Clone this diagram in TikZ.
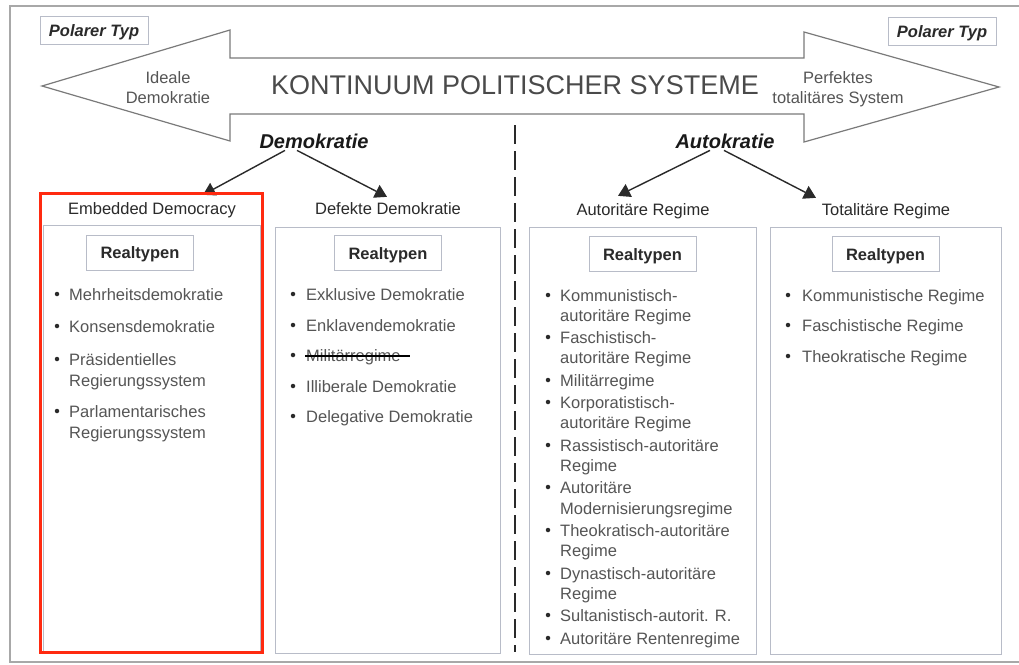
\documentclass[tikz,border=0pt]{standalone}
\usepackage{fontspec}
\setmainfont{Liberation Sans}
\usetikzlibrary{arrows.meta}
\usetikzlibrary{positioning}
\definecolor{frame grey}{HTML}{A8A8A8}
\definecolor{box grey}{HTML}{B8BCC8}
\definecolor{arrow grey}{HTML}{7A7A7A}
\definecolor{text dark}{HTML}{2A2A2A}
\definecolor{text grey}{HTML}{555555}
\definecolor{mark red}{HTML}{FF2A10}
\newcommand{\bodyfont}{\fontsize{16.5}{20}\selectfont}
\tikzstyle{polar box} = [draw = box grey, line width = 1, minimum width = 108, minimum height = 28, inner sep = 0, text height = 12, text depth = 0, font = \bodyfont\bfseries\itshape, text = text dark]
\tikzstyle{side text} = [align = center, inner sep = 0, font = \bodyfont, text = text grey]
\tikzstyle{kind text} = [anchor = base, inner sep = 0, font = \fontsize{20}{24}\selectfont\bfseries\itshape, text = black!90]
\tikzstyle{head text} = [anchor = base, inner sep = 0, font = \bodyfont, text = text dark]
\tikzstyle{col box} = [draw = box grey, line width = 1]
\tikzstyle{real box} = [draw = box grey, line width = 1, minimum width = 107, minimum height = 35, inner sep = 0, text height = 12, text depth = 0, font = \bodyfont\bfseries, text = text dark]
\tikzstyle{entry} = [anchor = base west, inner sep = 0, font = \bodyfont, text = text grey]
\tikzstyle{bullet} = [circle, fill = text dark, inner sep = 0, minimum size = 4.5]
\tikzstyle{branch} = [line width = 1.4, draw = text dark, -{Triangle[length = 12, width = 14]}]

\begin{document}
\begin{tikzpicture}[x = 1pt, y = -1pt]
    \useasboundingbox (0, 0) rectangle (1019, 664);
    \fill [white] (0, 0) rectangle (1019, 664);

    % frame, cut off on the right
    \draw [frame grey, line width = 1.5] (1019, 6) -- (10, 6) -- (10, 662) -- (1019, 662);

    % continuum arrow
    \draw [arrow grey, line width = 1.2, line join = miter]
        (42, 86) -- (230, 30) -- (230, 58) -- (804, 58) -- (804, 32)
        -- (999, 87) -- (804, 142) -- (804, 114) -- (230, 114) -- (230, 141) -- cycle;

    \node [polar box] (polar-l) at (94, 30) {Polarer Typ};
    \node [polar box] (polar-r) at (942, 31) {Polarer Typ};

    \node [anchor = base, inner sep = 0, font = \fontsize{27}{30}\selectfont, text = text dark!85!white]
        (kontinuum) at (515, 94) {KONTINUUM POLITISCHER SYSTEME};
    \node [side text] (ideal) at (168, 88) {Ideale\\Demokratie};
    \node [side text] (perfekt) at (838, 89) {Perfektes\\totalitäres System};

    % divider
    \draw [text dark, line width = 2.8, dash pattern = on 19 off 7] (515, 125) -- (515, 652);

    \node [kind text] (demo) at (314, 148) {Demokratie};
    \node [kind text] (auto) at (725, 148) {Autokratie};

    \node [head text] (head-a) at (152, 214) {Embedded Democracy};
    \node [head text] (head-b) at (388, 214) {Defekte Demokratie};
    \node [head text] (head-c) at (643, 215) {Autoritäre Regime};
    \node [head text] (head-d) at (886, 215) {Totalitäre Regime};

    \draw [branch] ([xshift = -29, yshift = -2]demo.south) -- ([xshift = 51, yshift = 7]head-a.north);
    \draw [branch] ([xshift = -17, yshift = -2]demo.south) -- ([xshift = -1, yshift = 5]head-b.north);
    \draw [branch] ([xshift = -15, yshift = -2]auto.south) -- ([xshift = -25, yshift = 7]head-c.north);
    \draw [branch] ([xshift = -1, yshift = -2]auto.south) -- ([xshift = -70, yshift = 5]head-d.north);

    % column boxes
    \draw [col box] (43, 225) rectangle (260, 652);
    \draw [col box] (275, 227) rectangle (500, 653);
    \draw [col box] (529, 227) rectangle (756, 654);
    \draw [col box] (770, 227) rectangle (1001, 654);

    \node [real box] (real-a) at (140, 252.5) {Realtypen};
    \node [real box] (real-b) at (388, 253) {Realtypen};
    \node [real box] (real-c) at (642.5, 254) {Realtypen};
    \node [real box] (real-d) at (885.5, 254) {Realtypen};

    % Embedded Democracy
    \foreach \y/\t [count = \i] in {300/Mehrheitsdemokratie, 332/Konsensdemokratie,
        365/Präsidentielles, 417/Parlamentarisches}
    {
        \node [bullet] (dot-a\i) at (57, \y - 6) {};
        \node [entry] (item-a\i) at (69, \y) {\t};
    }
    \foreach \y/\t [count = \i] in {386/Regierungssystem, 438/Regierungssystem}
    {
        \node [entry] (more-a\i) at (69, \y) {\t};
    }

    % Defekte Demokratie
    \foreach \y/\t [count = \i] in {300/Exklusive Demokratie, 331/Enklavendemokratie,
        361/Militärregime, 392/Illiberale Demokratie, 422/Delegative Demokratie}
    {
        \node [bullet] (dot-b\i) at (293, \y - 6) {};
        \node [entry] (item-b\i) at (306, \y) {\t};
    }
    \draw [black, line width = 1.6] ([xshift = -1, yshift = 5]item-b3.base west)
        -- ([xshift = 9, yshift = 5]item-b3.base east);

    % Autoritaere Regime
    \foreach \y/\t [count = \i] in {301/Kommunistisch-, 343/Faschistisch-, 386/Militärregime,
        408/Korporatistisch-, 451/Rassistisch-autoritäre, 493/Autoritäre,
        536/Theokratisch-autoritäre, 579/Dynastisch-autoritäre,
        621/Sultanistisch-autorit. R., 644/Autoritäre Rentenregime}
    {
        \node [bullet] (dot-c\i) at (548, \y - 6) {};
        \node [entry] (item-c\i) at (560, \y) {\t};
    }
    \foreach \y/\t [count = \i] in {321/autoritäre Regime, 363/autoritäre Regime,
        428/autoritäre Regime, 471/Regime, 514/Modernisierungsregime,
        556/Regime, 599/Regime}
    {
        \node [entry] (more-c\i) at (560, \y) {\t};
    }

    % Totalitaere Regime
    \foreach \y/\t [count = \i] in {301/Kommunistische Regime, 331/Faschistische Regime,
        362/Theokratische Regime}
    {
        \node [bullet] (dot-d\i) at (788, \y - 6) {};
        \node [entry] (item-d\i) at (802, \y) {\t};
    }

    % highlight
    \draw [mark red, line width = 3] (40, 193) rectangle (262, 652);
\end{tikzpicture}
\end{document}
